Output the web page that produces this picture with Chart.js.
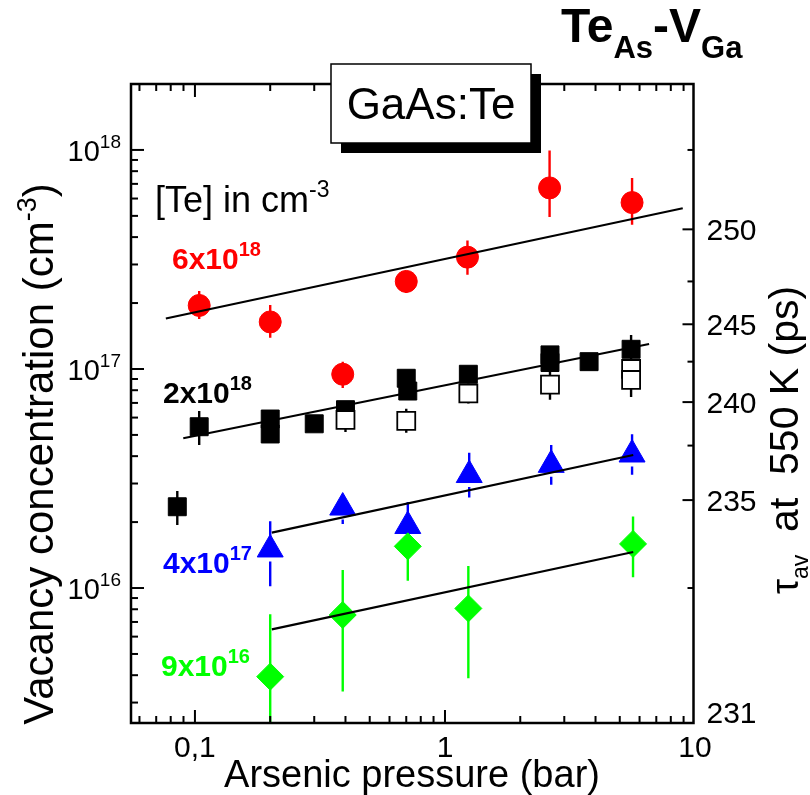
<!DOCTYPE html>
<html>
<head>
<meta charset="utf-8">
<script src="https://cdn.jsdelivr.net/npm/chart.js@4.4.1/dist/chart.umd.min.js"></script>
<style>
  html, body { margin: 0; padding: 0; background: #fff; }
  #chart { display: block; }
</style>
</head>
<body>
<canvas id="chart" width="810" height="795"></canvas>
<script>
// ---- data ----
var redX = [0.104, 0.2, 0.39, 0.7, 1.23, 2.62, 5.6];
var redY = [1.95e17, 1.64e17, 9.46e16, 2.51e17, 3.24e17, 6.71e17, 5.75e17];
var redLo = [1.69e17, 1.39e17, 8.19e16, 2.22e17, 2.69e17, 4.94e17, 4.55e17];
var redHi = [2.27e17, 1.96e17, 1.08e17, 2.80e17, 3.86e17, 9.94e17, 7.45e17];

var blackX = [0.085, 0.104, 0.2, 0.2, 0.3, 0.4, 0.7, 0.71, 1.24, 2.63, 2.63, 3.77, 5.55];
var blackY = [2.35e16, 5.45e16, 5.91e16, 5.05e16, 5.62e16, 6.52e16, 9.07e16, 7.93e16, 9.46e16, 1.16e17, 1.07e17, 1.08e17, 1.23e17];
var blackLo = [1.94e16, 4.5e16, 5.5e16, 4.75e16, 5.35e16, 6.2e16, 8.6e16, 7.5e16, 9.0e16, 1.1e17, 1.01e17, 1.0e17, 1.16e17];
var blackHi = [2.77e16, 6.43e16, 6.35e16, 5.35e16, 5.9e16, 6.85e16, 9.6e16, 8.4e16, 9.95e16, 1.22e17, 1.13e17, 1.16e17, 1.43e17];

var openX = [0.4, 0.7, 1.24, 2.63, 5.55, 5.55];
var openY = [5.85e16, 5.8e16, 7.73e16, 8.48e16, 1.0e17, 8.91e16];
var openLo = [5.16e16, 5.11e16, 6.96e16, 7.24e16, 8.82e16, 7.45e16];
var openHi = [6.63e16, 6.58e16, 8.59e16, 9.93e16, 1.134e17, 1.066e17];

var blueX = [0.2, 0.39, 0.71, 1.25, 2.66, 5.6];
var blueY = [1.50e16, 2.33e16, 1.92e16, 3.28e16, 3.65e16, 4.07e16];
var blueLo = [1.02e16, 1.96e16, 1.5e16, 2.59e16, 2.96e16, 3.29e16];
var blueHi = [2.02e16, 2.65e16, 2.47e16, 4.15e16, 4.5e16, 5.03e16];

var greenX = [0.2, 0.39, 0.71, 1.24, 5.65];
var greenY = [3.94e15, 7.53e15, 1.55e16, 8.07e15, 1.59e16];
var greenLo = [2.0e15, 3.37e15, 1.08e16, 3.87e15, 1.12e16];
var greenHi = [7.6e15, 1.21e16, 2.07e16, 1.26e16, 2.12e16];

// fitted lines (end points)
var fitX = [[0.0765, 8.93], [0.0898, 6.55], [0.203, 5.66], [0.203, 5.66]];
var fitY = [[1.70e17, 5.42e17], [4.83e16, 1.30e17], [1.79e16, 4.05e16], [6.47e15, 1.46e16]];

// axes
var xMin = 0.0555, xMax = 9.86;
var yMin = 2.42e15, yMax = 2.0e18;
var xTickVals = [0.1, 1, 10];
var xTickLabels = ['0,1', '1', '10'];
var yTickExp = [16, 17, 18];
// right axis (lifetime), placed at the concentrations they correspond to
var tauTickConc = [4.34e17, 1.60e17, 7.06e16, 2.52e16];
var tauTickLabels = ['250', '245', '240', '235'];
var tauMinorConc = [1.0e18, 2.51e17, 1.08e17, 4.47e16, 1.0e16];
var tauBottomLabel = '231';

var RED = '#ff0000', BLUE = '#0000ff', GREEN = '#00ff00', BLACK = '#000000';
var FONT = '"Liberation Sans", Arial, sans-serif';

function pts(xs, ys) {
    return xs.map(function(x, i){ return {x: x, y: ys[i]}; });
}

function rich(ctx, parts, x, y, align, rot) {
    // parts: [text, size, bold, dy]
    ctx.save();
    ctx.translate(x, y);
    if (rot) ctx.rotate(rot);
    ctx.textBaseline = 'alphabetic';
    ctx.textAlign = 'left';
    var w = 0;
    parts.forEach(function(p){
        ctx.font = (p[2] ? 'bold ' : '') + p[1] + 'px ' + FONT;
        w += ctx.measureText(p[0]).width;
    });
    var cx = align === 'right' ? -w : (align === 'center' ? -w / 2 : 0);
    parts.forEach(function(p){
        ctx.font = (p[2] ? 'bold ' : '') + p[1] + 'px ' + FONT;
        ctx.fillText(p[0], cx, p[3] || 0);
        cx += ctx.measureText(p[0]).width;
    });
    ctx.restore();
}

var errorBars = {
    id: 'errorBars',
    beforeDatasetsDraw: function(chart){
        var ctx = chart.ctx, ys = chart.scales.y, a = chart.chartArea;
        ctx.save();
        ctx.beginPath();
        ctx.rect(a.left, a.top, a.right - a.left, a.bottom - a.top);
        ctx.clip();
        chart.data.datasets.forEach(function(ds, di){
            if (!ds.errLo) return;
            var meta = chart.getDatasetMeta(di);
            ctx.strokeStyle = ds.errColor;
            ctx.lineWidth = 2.4;
            meta.data.forEach(function(el, i){
                var x = el.x, yc = el.y;
                var yt = ys.getPixelForValue(ds.errHi[i]);
                var yb = ys.getPixelForValue(ds.errLo[i]);
                var g = ds.errGap || 0;
                ctx.beginPath();
                if (g) {
                    if (yt < yc - g) { ctx.moveTo(x, yt); ctx.lineTo(x, yc - g); }
                    if (yb > yc + g) { ctx.moveTo(x, yc + g); ctx.lineTo(x, yb); }
                } else {
                    ctx.moveTo(x, yt); ctx.lineTo(x, yb);
                }
                ctx.stroke();
            });
        });
        ctx.restore();
    }
};

var frame = {
    id: 'frame',
    afterDraw: function(chart){
        var ctx = chart.ctx, xs = chart.scales.x, ys = chart.scales.y, a = chart.chartArea;
        ctx.save();
        ctx.strokeStyle = BLACK;
        ctx.fillStyle = BLACK;
        ctx.lineWidth = 2.5;
        ctx.strokeRect(a.left, a.top, a.right - a.left, a.bottom - a.top);

        // x ticks, bottom and top, pointing inward
        ctx.lineWidth = 2;
        for (var e = -2; e <= 1; e++) {
            for (var m = 1; m <= 9; m++) {
                var v = m * Math.pow(10, e);
                if (v < xMin || v > xMax * 1.001) continue;
                var px = xs.getPixelForValue(v);
                var len = m === 1 ? 13 : 7;
                ctx.beginPath();
                ctx.moveTo(px, a.bottom); ctx.lineTo(px, a.bottom - len);
                ctx.moveTo(px, a.top); ctx.lineTo(px, a.top + len);
                ctx.stroke();
            }
        }
        // left y ticks
        for (var e2 = 15; e2 <= 18; e2++) {
            for (var m2 = 1; m2 <= 9; m2++) {
                var v2 = m2 * Math.pow(10, e2);
                if (v2 < yMin || v2 > yMax) continue;
                var py = ys.getPixelForValue(v2);
                var len2 = m2 === 1 ? 13 : 7;
                ctx.beginPath();
                ctx.moveTo(a.left, py); ctx.lineTo(a.left + len2, py);
                ctx.stroke();
            }
        }
        // right ticks (lifetime)
        tauTickConc.forEach(function(c){
            var py = ys.getPixelForValue(c);
            ctx.beginPath(); ctx.moveTo(a.right, py); ctx.lineTo(a.right - 11, py); ctx.stroke();
        });
        tauMinorConc.forEach(function(c){
            var py = ys.getPixelForValue(c);
            ctx.beginPath(); ctx.moveTo(a.right, py); ctx.lineTo(a.right - 6, py); ctx.stroke();
        });

        // tick labels
        xTickVals.forEach(function(v, i){
            rich(ctx, [[xTickLabels[i], 30]], xs.getPixelForValue(v), a.bottom + 34, 'center');
        });
        yTickExp.forEach(function(ex){
            var py = ys.getPixelForValue(Math.pow(10, ex));
            rich(ctx, [['10', 29], [String(ex), 19, false, -13]], a.left - 10, py + 11, 'right');
        });
        tauTickConc.forEach(function(c, i){
            rich(ctx, [[tauTickLabels[i], 30]], a.right + 13, ys.getPixelForValue(c) + 11, 'left');
        });
        rich(ctx, [[tauBottomLabel, 30]], a.right + 13, a.bottom, 'left');

        // axis titles
        rich(ctx, [['Arsenic pressure (bar)', 38]], 412, 787, 'center');
        rich(ctx, [['Vacancy concentration (cm', 42], ['-3', 27, false, -17], [')', 42]], 53, 454, 'center', -Math.PI / 2);
        rich(ctx, [['\u03c4', 38], ['av', 23, false, 10], ['  at  550 K (ps)', 41]], 798, 594, 'left', -Math.PI / 2);

        // title
        rich(ctx, [['Te', 48, true], ['As', 31, true, 16], ['-V', 48, true], ['Ga', 31, true, 16]], 561, 42, 'left');

        // GaAs:Te box with shadow
        ctx.fillStyle = BLACK;
        ctx.fillRect(341, 74, 200, 79);
        ctx.fillStyle = '#fff';
        ctx.fillRect(331, 64, 200, 79);
        ctx.lineWidth = 1.5;
        ctx.strokeRect(331, 64, 200, 79);
        ctx.fillStyle = BLACK;
        rich(ctx, [['GaAs:Te', 44]], 431, 119, 'center');

        // concentration labels
        rich(ctx, [['[Te] in cm', 36], ['-3', 23, false, -15]], 155, 212, 'left');
        ctx.fillStyle = RED;
        rich(ctx, [['6x10', 30, true], ['18', 20, true, -13]], 172, 269, 'left');
        ctx.fillStyle = BLACK;
        rich(ctx, [['2x10', 30, true], ['18', 20, true, -13]], 163, 403, 'left');
        ctx.fillStyle = BLUE;
        rich(ctx, [['4x10', 30, true], ['17', 20, true, -13]], 163, 573, 'left');
        ctx.fillStyle = GREEN;
        rich(ctx, [['9x10', 30, true], ['16', 20, true, -13]], 161, 676, 'left');
        ctx.restore();
    }
};

var datasets = [];
fitX.forEach(function(fx, i){
    datasets.push({
        data: pts(fx, fitY[i]), showLine: true, pointRadius: 0,
        borderColor: BLACK, borderWidth: 2.2, fill: false
    });
});
datasets.push({
    data: pts(openX, openY), pointStyle: 'rect', pointRadius: 12.7,
    backgroundColor: '#fff', borderColor: BLACK, borderWidth: 1.8,
    errLo: openLo, errHi: openHi, errColor: BLACK
});
datasets.push({
    data: pts(blackX, blackY), pointStyle: 'rect', pointRadius: 12.7,
    backgroundColor: BLACK, borderColor: BLACK, borderWidth: 1,
    errLo: blackLo, errHi: blackHi, errColor: BLACK
});
datasets.push({
    data: pts(redX, redY), pointStyle: 'circle', pointRadius: 11,
    backgroundColor: RED, borderColor: RED, borderWidth: 1,
    errLo: redLo, errHi: redHi, errColor: RED
});
datasets.push({
    data: pts(greenX, greenY), pointStyle: 'rectRot', pointRadius: 13.5,
    backgroundColor: GREEN, borderColor: GREEN, borderWidth: 1,
    errLo: greenLo, errHi: greenHi, errColor: GREEN
});
datasets.push({
    data: pts(blueX, blueY), pointStyle: 'triangle', pointRadius: 15,
    backgroundColor: BLUE, borderColor: BLUE, borderWidth: 1,
    errLo: blueLo, errHi: blueHi, errColor: BLUE, errGap: 12
});

var chart = new Chart(document.getElementById('chart'), {
    type: 'scatter',
    data: { datasets: datasets },
    options: {
        responsive: false,
        animation: false,
        devicePixelRatio: 1,
        layout: { padding: { left: 131, right: 116.5, top: 84, bottom: 72 } },
        plugins: { legend: { display: false }, tooltip: { enabled: false } },
        elements: { point: { hoverRadius: 0 } },
        scales: {
            x: { type: 'logarithmic', min: xMin, max: xMax, bounds: 'data', display: false },
            y: { type: 'logarithmic', min: yMin, max: yMax, bounds: 'data', display: false }
        }
    },
    plugins: [errorBars, frame]
});
</script>
</body>
</html>
